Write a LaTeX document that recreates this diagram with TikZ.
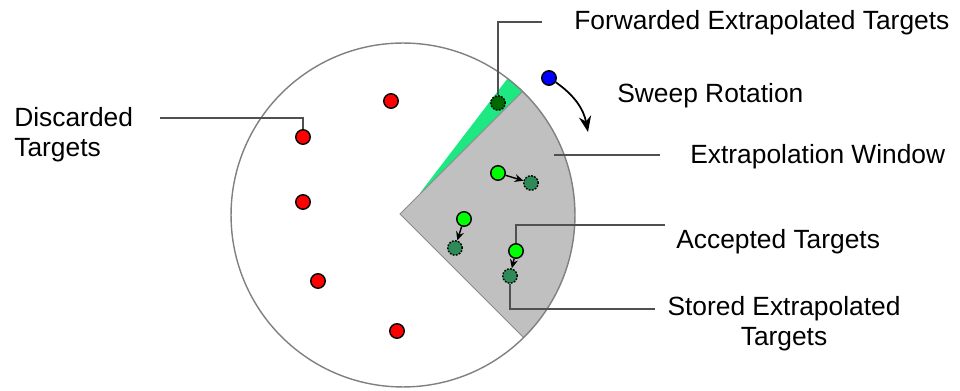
\documentclass[tikz,border=0pt]{standalone}
\usepackage{fontspec}
\setmainfont{Liberation Sans}
\usetikzlibrary{arrows.meta}
\definecolor{storedgreen}{RGB}{46,139,87}
\definecolor{fwdgreen}{RGB}{0,105,0}
\definecolor{wedgegreen}{RGB}{30,232,130}
\definecolor{windowgray}{RGB}{192,192,192}
\definecolor{leadergray}{RGB}{80,80,80}
\tikzset{
  target/.style={circle, draw=black, line width=0.8pt, minimum size=0.29cm, inner sep=0pt},
  discarded/.style={target, fill=red},
  accepted/.style={target, fill=green},
  stored/.style={target, fill=storedgreen, dash pattern=on 1pt off 0.8pt},
  forwarded/.style={target, fill=fwdgreen, dash pattern=on 1pt off 0.8pt},
  sweepdot/.style={target, fill=blue},
  leader/.style={draw=leadergray, line width=0.6pt},
  move/.style={-{Stealth[length=5pt,width=4.5pt]}, line width=0.8pt},
  label/.style={inner sep=0pt, font=\fontsize{15}{17}\selectfont}
}
\begin{document}
\begin{tikzpicture}[x=0.02cm, y=-0.02cm]
    \useasboundingbox (0,0) rectangle (960,391);
    % Radar area and windows
    \begin{scope}
        \clip (403,215) circle [radius=3.44cm];
        \fill[wedgegreen] (420,193) -- (540,36) -- (640,2) -- cycle;
        \filldraw[fill=windowgray, draw=gray!90, line width=0.5pt] (400,214) -- (612,2) -- (700,214) -- (612,426) -- cycle;
    \end{scope}
    \draw[gray, line width=0.8pt] (403,215) circle [radius=3.44cm];

    % Targets
    \node (d1) [discarded] at (391,101) {};
    \node (d2) [discarded] at (303,137) {};
    \node (d3) [discarded] at (303,202) {};
    \node (d4) [discarded] at (318,281) {};
    \node (d5) [discarded] at (397,331) {};
    \node (fwd) [forwarded] at (498,103) {};
    \node (sweep) [sweepdot] at (549,78) {};
    \node (a1) [accepted] at (498,173) {};
    \node (s1) [stored] at (531,183) {};
    \node (a2) [accepted] at (464,219) {};
    \node (s2) [stored] at (455,248) {};
    \node (a3) [accepted] at (516,251) {};
    \node (s3) [stored] at (510,276) {};

    % Labels
    \node (disclabel) [label, anchor=north west, align=left] at (14,107) {Discarded\\Targets};
    \node (fwdlabel) [label, anchor=base west] at (574,30) {Forwarded Extrapolated Targets};
    \node (sweeplabel) [label, anchor=base west] at (617,103) {Sweep Rotation};
    \node (winlabel) [label, anchor=base west] at (690,164) {Extrapolation Window};
    \node (acclabel) [label, anchor=base west] at (676,249) {Accepted Targets};
    \node (stolabel) [label, anchor=north, align=center] at (784,296) {Stored Extrapolated\\Targets};

    % Leader lines
    \coordinate (discstart) at (160,118);
    \coordinate (fwdstart) at (542,22);
    \coordinate (winstart) at (554,155);
    \coordinate (winend) at (660,155);
    \coordinate (accstart) at (665,225);
    \coordinate (stoend) at (655,309);
    \draw[leader] (discstart) -| (d2);
    \draw[leader] (fwdstart) -| (fwd);
    \draw[leader] (winstart) -- (winend);
    \draw[leader] (accstart) -| (a3);
    \draw[leader] (s3) |- (stoend);

    % Arrows
    \coordinate (sweepend) at (588,132);
    \draw[move, -{Stealth[length=9pt,width=7pt]}, line width=1pt] (sweep) to[bend left=22] (sweepend);
    \draw[move] (a1) -- (s1);
    \draw[move] (a2) -- (s2);
    \draw[move] (a3) -- (s3);
\end{tikzpicture}
\end{document}
